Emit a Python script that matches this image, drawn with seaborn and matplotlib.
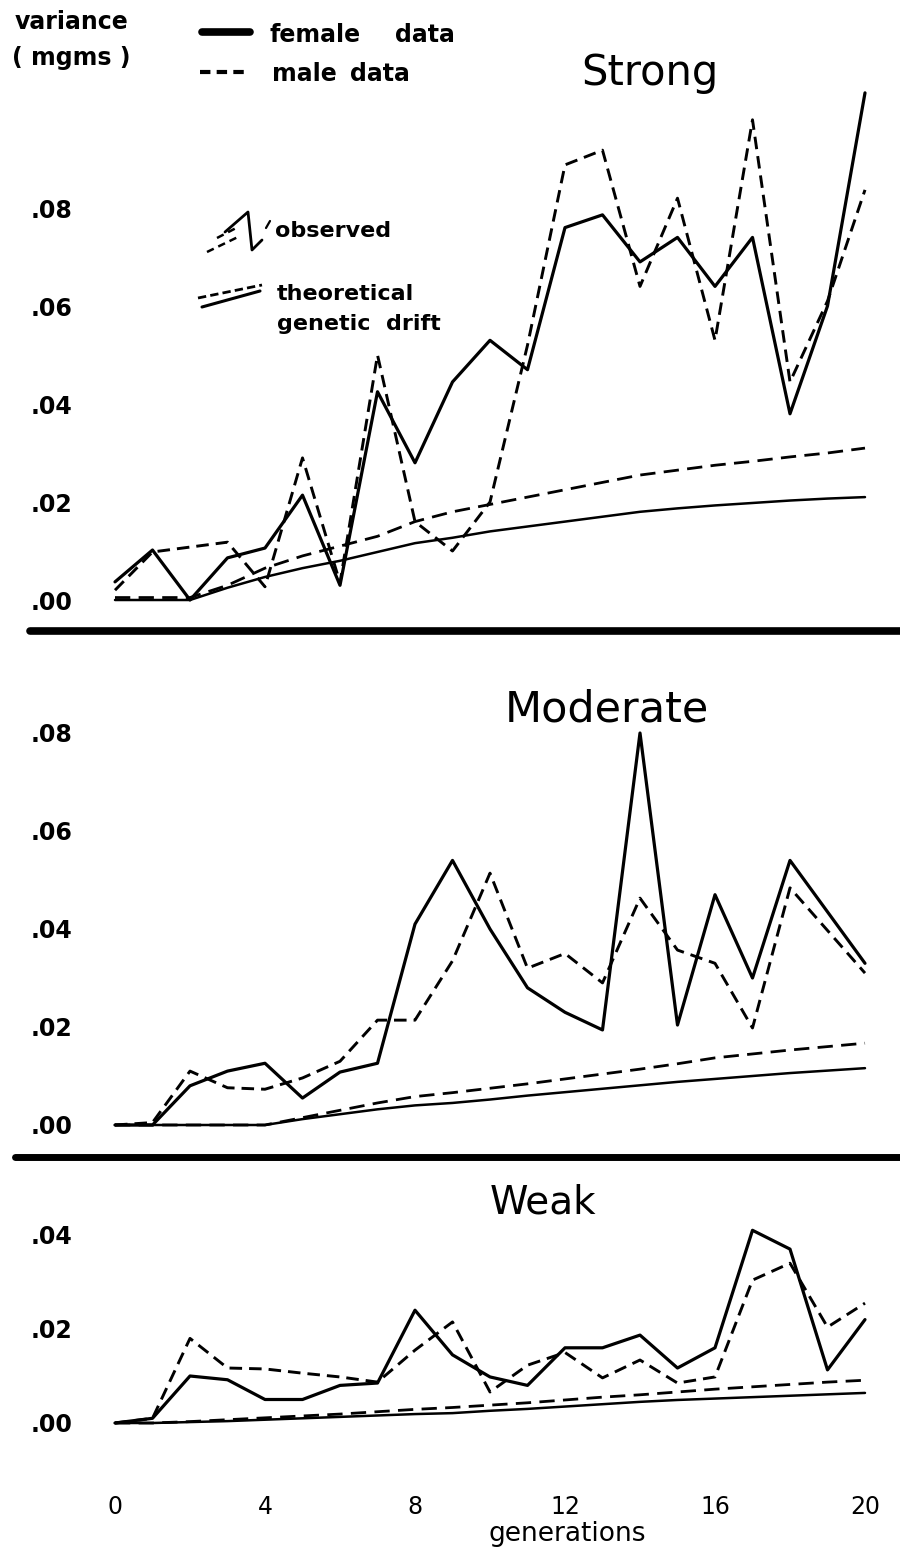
import matplotlib
matplotlib.use("Agg")
import matplotlib.pyplot as plt
import seaborn as sns
from matplotlib.lines import Line2D
from matplotlib.ticker import FuncFormatter

# ---------------------------------------------------------------- data
generations = list(range(21))

strong_female = [0.0037, 0.0102, 0.0000, 0.0086, 0.0106, 0.0214, 0.0030, 0.0425,
                 0.0280, 0.0445, 0.0530, 0.0470, 0.0760, 0.0786, 0.0690, 0.0740,
                 0.0640, 0.0740, 0.0380, 0.0600, 0.1035]
strong_male = [0.0020, 0.0098, 0.0108, 0.0118, 0.0027, 0.0290, 0.0035, 0.0500,
               0.0160, 0.0100, 0.0200, 0.0520, 0.0888, 0.0918, 0.0640, 0.0820,
               0.0530, 0.0980, 0.0445, 0.0610, 0.0837]
strong_drift_female = [0.0000, 0.0000, 0.0000, 0.0025, 0.0047, 0.0065, 0.0080, 0.0098,
                       0.0116, 0.0127, 0.0140, 0.0150, 0.0160, 0.0170, 0.0180, 0.0187,
                       0.0193, 0.0198, 0.0203, 0.0207, 0.0210]
strong_drift_male = [0.0005, 0.0005, 0.0005, 0.0030, 0.0065, 0.0090, 0.0110, 0.0130,
                     0.0160, 0.0180, 0.0195, 0.0210, 0.0225, 0.0240, 0.0255, 0.0265,
                     0.0275, 0.0283, 0.0292, 0.0300, 0.0310]

moderate_female = [0.0000, 0.0000, 0.0080, 0.0110, 0.0126, 0.0055, 0.0108, 0.0126,
                   0.0410, 0.0540, 0.0400, 0.0280, 0.0230, 0.0194, 0.0800, 0.0204,
                   0.0470, 0.0300, 0.0540, 0.0435, 0.0330]
moderate_male = [0.0000, 0.0005, 0.0110, 0.0076, 0.0073, 0.0096, 0.0130, 0.0214,
                 0.0214, 0.0335, 0.0514, 0.0320, 0.0350, 0.0290, 0.0463, 0.0357,
                 0.0330, 0.0198, 0.0484, 0.0397, 0.0310]
moderate_drift_female = [0.0000, 0.0000, 0.0000, 0.0000, 0.0000, 0.0012, 0.0022, 0.0032,
                         0.0040, 0.0045, 0.0052, 0.0060, 0.0067, 0.0074, 0.0081, 0.0088,
                         0.0094, 0.0100, 0.0106, 0.0111, 0.0116]
moderate_drift_male = [0.0000, 0.0000, 0.0000, 0.0000, 0.0000, 0.0015, 0.0030, 0.0045,
                       0.0058, 0.0066, 0.0075, 0.0084, 0.0094, 0.0104, 0.0114, 0.0125,
                       0.0137, 0.0145, 0.0153, 0.0160, 0.0167]

weak_female = [0.0000, 0.0010, 0.0100, 0.0092, 0.0050, 0.0050, 0.0080, 0.0085,
               0.0240, 0.0145, 0.0098, 0.0080, 0.0160, 0.0160, 0.0187, 0.0117,
               0.0160, 0.0410, 0.0370, 0.0113, 0.0220]
weak_male = [0.0000, 0.0010, 0.0180, 0.0117, 0.0115, 0.0106, 0.0098, 0.0087,
             0.0155, 0.0215, 0.0066, 0.0123, 0.0150, 0.0096, 0.0134, 0.0085,
             0.0098, 0.0304, 0.0340, 0.0204, 0.0255]
weak_drift_female = [0.0000, 0.0000, 0.0002, 0.0004, 0.0007, 0.0010, 0.0013, 0.0016,
                     0.0019, 0.0021, 0.0026, 0.0030, 0.0035, 0.0040, 0.0045, 0.0049,
                     0.0052, 0.0055, 0.0058, 0.0061, 0.0064]
weak_drift_male = [0.0000, 0.0000, 0.0003, 0.0007, 0.0011, 0.0015, 0.0019, 0.0024,
                   0.0029, 0.0033, 0.0038, 0.0043, 0.0049, 0.0055, 0.0060, 0.0066,
                   0.0072, 0.0077, 0.0082, 0.0087, 0.0091]

panel_titles = ["Strong", "Moderate", "Weak"]
strong_yticks = [0.00, 0.02, 0.04, 0.06, 0.08]
moderate_yticks = [0.00, 0.02, 0.04, 0.06, 0.08]
weak_yticks = [0.00, 0.02, 0.04]
xticks = [0, 4, 8, 12, 16, 20]

# ---------------------------------------------------------------- style
sns.set_theme(style="white")
plt.rcParams["font.family"] = ["DejaVu Sans"]
plt.rcParams["text.color"] = "black"
plt.rcParams["xtick.color"] = "black"
plt.rcParams["ytick.color"] = "black"
plt.rcParams["xtick.labelcolor"] = "black"
plt.rcParams["ytick.labelcolor"] = "black"

W, H = 900, 1547
fig = plt.figure(figsize=(W / 100, H / 100), dpi=100)
fig.patch.set_facecolor("white")


def add_axes_px(left, top, right, bottom):
    return fig.add_axes([left / W, 1 - bottom / H, (right - left) / W, (bottom - top) / H])


def text_px(x, y, s, **kw):
    fig.text(x / W, 1 - y / H, s, color="black", **kw)


def line_px(xs, ys, **kw):
    fig.add_artist(Line2D([x / W for x in xs], [1 - y / H for y in ys],
                          color="black", solid_capstyle="round", **kw))


# pixel geometry: (top, bottom, zero line, pixels per unit variance)
AX_LEFT, AX_RIGHT = 100, 885
X0_PX, PX_PER_GEN = 115, 37.5
panels = [
    dict(top=60, bottom=622, zero=600, scale=4900, title=panel_titles[0],
         title_xy=(650, 73), title_size=30, yticks=strong_yticks,
         series=(strong_female, strong_male, strong_drift_female, strong_drift_male)),
    dict(top=690, bottom=1145, zero=1125, scale=4900, title=panel_titles[1],
         title_xy=(607, 710), title_size=31, yticks=moderate_yticks,
         series=(moderate_female, moderate_male, moderate_drift_female, moderate_drift_male)),
    dict(top=1175, bottom=1445, zero=1423, scale=4700, title=panel_titles[2],
         title_xy=(543, 1202), title_size=28, yticks=weak_yticks,
         series=(weak_female, weak_male, weak_drift_female, weak_drift_male)),
]

obs_dash = (0, (4.3, 2.4))
drift_dash = (0, (5.5, 3.0))

for i, p in enumerate(panels):
    ax = add_axes_px(AX_LEFT, p["top"], AX_RIGHT, p["bottom"])
    ax.set_facecolor("none")
    female, male, drift_f, drift_m = p["series"]

    sns.lineplot(x=generations, y=drift_f, ax=ax, color="black", lw=1.8)
    sns.lineplot(x=generations, y=drift_m, ax=ax, color="black", lw=2.0,
                 linestyle=drift_dash)
    sns.lineplot(x=generations, y=female, ax=ax, color="black", lw=2.3)
    sns.lineplot(x=generations, y=male, ax=ax, color="black", lw=2.1,
                 linestyle=obs_dash)

    ax.set_xlim((AX_LEFT - X0_PX) / PX_PER_GEN, (AX_RIGHT - X0_PX) / PX_PER_GEN)
    ax.set_ylim((p["zero"] - p["bottom"]) / p["scale"], (p["zero"] - p["top"]) / p["scale"])
    sns.despine(ax=ax, left=True, bottom=True)
    ax.grid(False)

    ax.set_yticks(p["yticks"])
    ax.yaxis.set_major_formatter(FuncFormatter(lambda v, _: f"{v:.2f}".lstrip("0")))
    ax.tick_params(axis="y", length=0, pad=20, labelsize=17, labelcolor="black")
    for lab in ax.get_yticklabels():
        lab.set_fontweight("bold")

    if i == len(panels) - 1:
        ax.set_xticks(xticks)
        ax.set_xticklabels([str(t) for t in xticks])
        ax.tick_params(axis="x", length=0, pad=36, labelsize=17, labelcolor="black")
    else:
        ax.set_xticks([])
    ax.set_xlabel("")
    ax.set_ylabel("")

    tx, ty = p["title_xy"]
    text_px(tx, ty, p["title"], fontsize=p["title_size"], ha="center", va="center")

# x axis caption
text_px(567, 1534, "generations", fontsize=19, ha="center", va="center")

# thick panel separators
line_px([30, 900], [631, 631], lw=5.5)
line_px([15, 900], [1157, 1157], lw=5.0)

# y axis caption
text_px(15, 22, "variance", fontsize=17, fontweight="bold", ha="left", va="center")
text_px(12, 58, "( mgms )", fontsize=17, fontweight="bold", ha="left", va="center")

# sex key
line_px([202, 250], [32, 32], lw=5.5)
text_px(270, 35, "female", fontsize=17, fontweight="bold", ha="left", va="center")
text_px(395, 35, "data", fontsize=17, fontweight="bold", ha="left", va="center")
line_px([200, 250], [72, 72], lw=3.0, linestyle=(0, (2.5, 1.5)))
text_px(272, 74, "male", fontsize=17, fontweight="bold", ha="left", va="center")
text_px(350, 74, "data", fontsize=17, fontweight="bold", ha="left", va="center")

# observed / theoretical key
line_px([207, 240], [252, 236], lw=1.8, linestyle=(0, (3, 2)))
line_px([217, 238], [238, 227], lw=1.8, linestyle=(0, (3, 2)))
line_px([225, 248, 252, 262], [232, 212, 250, 240], lw=2.0)
line_px([266, 270], [228, 221], lw=1.6)
text_px(275, 231, "observed", fontsize=16, fontweight="bold", ha="left", va="center")

line_px([198, 262], [298, 285], lw=2.0, linestyle=(0, (3, 1.5)))
line_px([202, 260], [307, 291], lw=2.2)
text_px(277, 294, "theoretical", fontsize=16, fontweight="bold", ha="left", va="center")
text_px(277, 324, "genetic  drift", fontsize=16, fontweight="bold", ha="left", va="center")

fig.savefig("out.png", dpi=100, facecolor="white")
